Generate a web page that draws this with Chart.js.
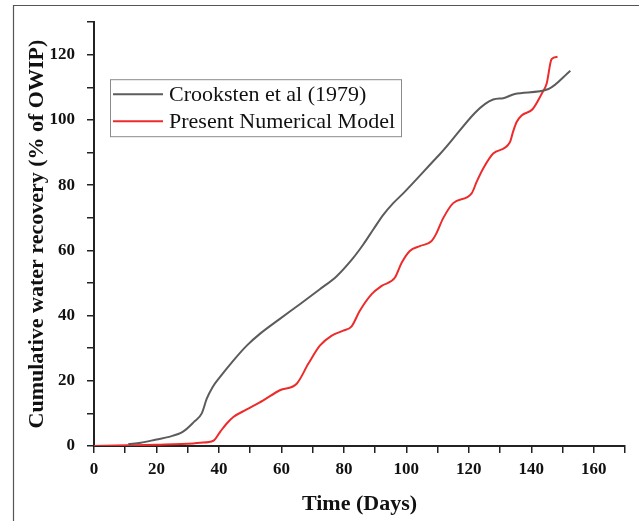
<!DOCTYPE html>
<html>
<head>
<meta charset="utf-8">
<script src="https://cdn.jsdelivr.net/npm/chart.js@4.4.0/dist/chart.umd.min.js"></script>
<style>
  html, body { margin: 0; padding: 0; background: #fff; }
  #wrap { position: relative; width: 639px; height: 521px; }
  canvas { display: block; }
</style>
</head>
<body>
<div id="wrap"><canvas id="c" width="639" height="521"></canvas></div>
<script>
// ---- Data ----
const seriesLabels = ['Crooksten et al (1979)', 'Present Numerical Model'];

const crookDays   = [11, 15, 20, 24, 28.5, 32, 34.5, 36.1, 38, 40.3, 44.6, 48.9, 53.1, 59.5, 65.9, 72.3, 77.7, 83, 86.2, 89.4, 92.6, 95.8, 99, 110.7, 127.8, 131, 134.7, 145.5, 152.5];
const crookValues = [0.6, 1.0, 2.0, 2.8, 4.4, 7.4, 10, 14.5, 18.1, 21.1, 26.2, 30.8, 34.4, 39, 43.5, 48.1, 52.1, 57.7, 61.8, 66.4, 70.9, 74.5, 77.5, 89.5, 106.3, 106.7, 108, 109.5, 115.1];

const modelDays   = [0, 10.5, 20, 31.8, 34, 38.2, 40.5, 42.5, 44.6, 48.9, 54.2, 59.5, 64.9, 68.6, 72.3, 76, 79.8, 82.4, 85.1, 88.9, 92.1, 96.3, 98.5, 101.1, 104.3, 108, 109.5, 111.8, 115, 120.9, 122.5, 124.6, 127.8, 133.1, 134.2, 135.3, 136.9, 140.4, 143.3, 144.9, 146.5, 148.4];
const modelValues = [0, 0.2, 0.4, 0.8, 1.0, 1.6, 4.5, 6.9, 8.9, 11.2, 14, 17.1, 19.1, 25.2, 30.8, 33.8, 35.4, 36.6, 41.5, 46.6, 49.1, 51.6, 56.2, 59.8, 61.3, 62.8, 65, 69.9, 74.5, 77.5, 81, 85.1, 89.7, 93.1, 96.5, 99.4, 101.4, 103.3, 108, 111.1, 118.7, 119.4];

const xTitle = 'Time (Days)';
const yTitle = 'Cumulative water recovery (% of OWIP)';
const xRange = [0, 170];
const yRange = [0, 130];

// ---- Build library structures ----
const toPoints = (xs, ys) => xs.map((x, i) => ({ x: x, y: ys[i] }));
const FONT = '"Liberation Serif", "Times New Roman", Times, serif';
const colors = ['#5c5c5c', '#ee2b2b'];

const frameAndLegend = {
  id: 'frameAndLegend',
  beforeDraw(chart) {
    const ctx = chart.ctx;
    ctx.save();
    ctx.strokeStyle = '#555';
    ctx.lineWidth = 1.2;
    ctx.beginPath();
    ctx.moveTo(13.5, chart.height);
    ctx.lineTo(13.5, 5.5);
    ctx.lineTo(chart.width, 5.5);
    ctx.stroke();
    ctx.restore();
  },
  afterDraw(chart) {
    const ctx = chart.ctx;
    const a = chart.chartArea;
    const bx = a.left + 16, by = a.top + 57, bw = 291, bh = 57;
    ctx.save();
    ctx.fillStyle = '#fff';
    ctx.fillRect(bx, by, bw, bh);
    ctx.strokeStyle = '#8a8a8a';
    ctx.lineWidth = 1;
    ctx.strokeRect(bx + 0.5, by + 0.5, bw, bh);
    ctx.font = '22px ' + FONT;
    ctx.textBaseline = 'middle';
    ctx.textAlign = 'left';
    chart.data.datasets.forEach((ds, i) => {
      const y = by + 15 + i * 27;
      ctx.strokeStyle = ds.borderColor;
      ctx.lineWidth = 2;
      ctx.beginPath();
      ctx.moveTo(bx + 3, y);
      ctx.lineTo(bx + 53, y);
      ctx.stroke();
      ctx.fillStyle = '#111';
      ctx.fillText(ds.label, bx + 59, y + 1);
    });
    ctx.restore();
  }
};

const tickCb = v => (v % 20 === 0 ? v : '');

new Chart(document.getElementById('c'), {
  type: 'line',
  data: {
    datasets: [
      { label: seriesLabels[0], data: toPoints(crookDays, crookValues), borderColor: colors[0], borderWidth: 2, pointRadius: 0, cubicInterpolationMode: 'monotone', fill: false },
      { label: seriesLabels[1], data: toPoints(modelDays, modelValues), borderColor: colors[1], borderWidth: 2, pointRadius: 0, cubicInterpolationMode: 'monotone', fill: false }
    ]
  },
  options: {
    responsive: false,
    animation: false,
    layout: { padding: { top: 17, right: 14, left: 0, bottom: 0 } },
    plugins: { legend: { display: false }, tooltip: { enabled: false } },
    scales: {
      x: {
        type: 'linear',
        min: xRange[0], max: xRange[1],
        afterFit: s => { s.height = 75; },
        border: { display: true, color: '#222', width: 2 },
        grid: { drawOnChartArea: false, drawTicks: true, tickLength: 7, color: '#222', lineWidth: 1.5 },
        ticks: { stepSize: 10, autoSkip: false, maxRotation: 0, padding: 6, color: '#111', font: { family: FONT, size: 17, weight: 'bold' }, callback: tickCb },
        title: { display: true, text: xTitle, color: '#111', font: { family: FONT, size: 22, weight: 'bold' }, padding: { top: 0, bottom: 3 } }
      },
      y: {
        type: 'linear',
        min: yRange[0], max: yRange[1],
        afterFit: s => { s.width = 94; },
        border: { display: true, color: '#222', width: 2 },
        grid: { drawOnChartArea: false, drawTicks: true, tickLength: 7, color: '#222', lineWidth: 1.5 },
        ticks: { stepSize: 10, autoSkip: false, padding: 12, color: '#111', font: { family: FONT, size: 17, weight: 'bold' }, callback: tickCb },
        title: { display: true, text: yTitle, color: '#111', font: { family: FONT, size: 22, weight: 'bold' }, padding: { top: 24, bottom: 0 } }
      }
    }
  },
  plugins: [frameAndLegend]
});
</script>
</body>
</html>
